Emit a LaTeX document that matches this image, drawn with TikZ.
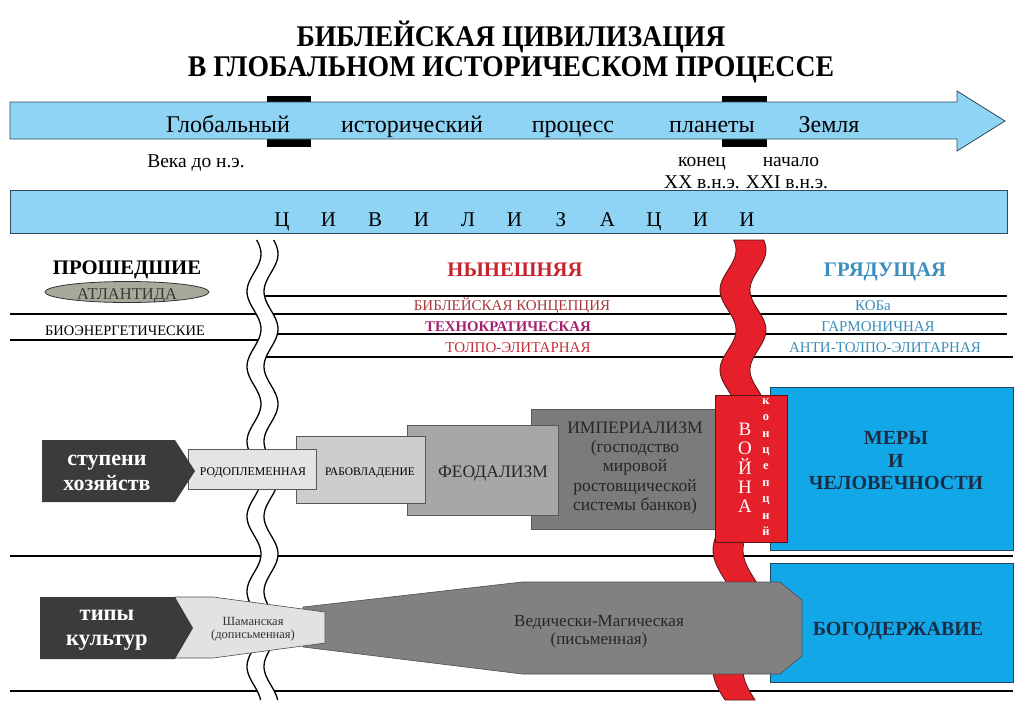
\documentclass[tikz,border=0pt]{standalone}
\usepackage{fontspec}
\setmainfont{Liberation Serif}
\usepackage{graphicx}
\definecolor{lblue}{HTML}{8FD4F5}
\definecolor{bardraw}{HTML}{2E4A58}
\definecolor{bblue}{HTML}{12A8E8}
\definecolor{bluedraw}{HTML}{1E4660}
\definecolor{warred}{HTML}{E5202A}
\definecolor{redline}{HTML}{5A1414}
\definecolor{navy}{HTML}{1B2D45}
\definecolor{nowred}{HTML}{C4262E}
\definecolor{bibred}{HTML}{A8383C}
\definecolor{techmag}{HTML}{A3206C}
\definecolor{tolred}{HTML}{C2303A}
\definecolor{futblue}{HTML}{3A8FBF}
\definecolor{rightteal}{HTML}{3C8DB6}
\definecolor{darklab}{HTML}{3B3B3B}
\definecolor{grRod}{HTML}{E4E4E4}
\definecolor{grRab}{HTML}{CDCDCD}
\definecolor{grFeo}{HTML}{A7A7A9}
\definecolor{grImp}{HTML}{7B7B7D}
\definecolor{grVed}{HTML}{818184}
\definecolor{grSha}{HTML}{E2E2E2}
\definecolor{atl}{HTML}{A9A99B}
\begin{document}
\begin{tikzpicture}[x=1pt,y=-1pt,
  every node/.style={inner sep=0pt,outer sep=0pt},
  hline/.style={line width=1.6pt,black},
  wave/.style={line width=1.3pt,black},
  boxline/.style={draw=black!65,line width=0.6pt},
  fs/.style={font=\fontsize{#1}{#1}\selectfont},
  fb/.style={font=\bfseries\fontsize{#1}{#1}\selectfont}
]
\useasboundingbox (0,0) rectangle (1027,710);
% title
\node[fb=30,anchor=base] (t1) at (511,46) {\scalebox{0.925}[1]{БИБЛЕЙСКАЯ ЦИВИЛИЗАЦИЯ}};
\node[fb=30,anchor=base] (t2) at (511,76) {\scalebox{0.925}[1]{В ГЛОБАЛЬНОМ ИСТОРИЧЕСКОМ ПРОЦЕССЕ}};
% top arrow
\fill[black] (267,96) rectangle (311,147);
\fill[black] (722,96) rectangle (767,147);
\filldraw[fill=lblue,draw=bardraw,line width=0.8pt] (10,102) -- (957,102) -- (957,91) -- (1005,121) -- (957,151) -- (957,139) -- (10,139) -- cycle;
\node[fs=24,anchor=base] (w1) at (228,132) {Глобальный};
\node[fs=24,anchor=base] (w2) at (412,132) {исторический};
\node[fs=24,anchor=base] (w3) at (573,132) {процесс};
\node[fs=24,anchor=base] (w4) at (712,132) {планеты};
\node[fs=24,anchor=base] (w5) at (829,132) {Земля};
\node[fs=19.5,anchor=base] (v1) at (196,167) {Века до н.э.};
\node[fs=19.5,anchor=base] (v2) at (702,166) {конец};
\node[fs=19.5,anchor=base] (v3) at (702,188) {XX в.н.э.};
\node[fs=19.5,anchor=base] (v4) at (791,166) {начало};
\node[fs=19.5,anchor=base] (v5) at (787,188) {XXI в.н.э.};
% civilisation bar
\filldraw[fill=lblue,draw=bardraw,line width=0.8pt] (10,190) rectangle (1007,233);
\foreach \l [count=\i from 0] in {Ц,И,В,И,Л,И,З,А,Ц,И,И}
  \node[fs=21,anchor=base] (c\i) at ({282+46.5*\i},226) {\l};
% row lines
\draw[hline] (10,314) -- (262,314);
\draw[hline] (10,340) -- (262,340);
\draw[hline] (262,296) -- (1007,296);
\draw[hline] (262,314) -- (1007,314);
\draw[hline] (262,334) -- (1007,334);
\draw[hline] (262,357) -- (1013,357);
\draw[hline] (10,556) -- (1013,556);
\draw[hline] (10,691) -- (1013,691);
% headings
\node[fb=20.7,anchor=base] (past) at (127,274) {ПРОШЕДШИЕ};
\node[fb=20.7,anchor=base,text=nowred] (now) at (515,276) {НЫНЕШНЯЯ};
\node[fb=20.7,anchor=base,text=futblue] (fut) at (885,276) {ГРЯДУЩАЯ};
\filldraw[fill=atl,draw=black!80,line width=0.8pt] (127,292) ellipse [x radius=82,y radius=10.5];
\node[fs=16.5,anchor=base,text=black!78] (atlant) at (127,299.5) {АТЛАНТИДА};
\node[fs=14.5,anchor=base] (bio) at (125,335) {БИОЭНЕРГЕТИЧЕСКИЕ};
\node[fs=15,anchor=base,text=bibred] (bib) at (512,310) {БИБЛЕЙСКАЯ КОНЦЕПЦИЯ};
\node[fb=14.8,anchor=base,text=techmag] (tech) at (508,331) {ТЕХНОКРАТИЧЕСКАЯ};
\node[fs=15,anchor=base,text=tolred] (tol) at (518,352) {ТОЛПО-ЭЛИТАРНАЯ};
\node[fs=15,anchor=base,text=rightteal] (kob) at (873,310) {КОБа};
\node[fs=15,anchor=base,text=rightteal] (garm) at (878,331) {ГАРМОНИЧНАЯ};
\node[fs=15,anchor=base,text=rightteal] (anti) at (885,352) {АНТИ-ТОЛПО-ЭЛИТАРНАЯ};
% white wavy break
\fill[white] plot[domain=240:700,samples=160] ({254+7*cos(4.8*(\x-254))},\x) -- plot[domain=700:240,samples=160] ({271+7*cos(4.8*(\x-254))},\x) -- cycle;
\draw[wave] plot[domain=240:700,samples=160] ({254+7*cos(4.8*(\x-254))},\x);
\draw[wave] plot[domain=240:700,samples=160] ({271+7*cos(4.8*(\x-254))},\x);
% red wavy band
\filldraw[fill=warred,draw=redline,line width=0.8pt] plot[domain=240:405,samples=90] ({743+8*cos(4.5*(\x-330))-15},\x) -- plot[domain=405:240,samples=90] ({743+8*cos(4.5*(\x-330))+15},\x) -- cycle;
\filldraw[fill=warred,draw=redline,line width=0.8pt] plot[domain=535:700,samples=90] ({740-12*cos(3*(\x-550))-15},\x) -- plot[domain=700:535,samples=90] ({740-12*cos(3*(\x-550))+15},\x) -- cycle;
% blue boxes
\filldraw[fill=bblue,draw=bluedraw,line width=0.8pt] (770,387) rectangle (1013,550);
\filldraw[fill=bblue,draw=bluedraw,line width=0.8pt] (770,563) rectangle (1013,682);
\node[fb=20,anchor=base,text=navy] (m1) at (896,444) {МЕРЫ};
\node[fb=20,anchor=base,text=navy] (m2) at (896,467) {И};
\node[fb=20,anchor=base,text=navy] (m3) at (896,489) {ЧЕЛОВЕЧНОСТИ};
\node[fb=20,anchor=base,text=navy] (bog) at (898,635) {БОГОДЕРЖАВИЕ};
% stages of economy
\filldraw[fill=grImp,boxline] (531,409) rectangle (732,529);
\filldraw[fill=warred,draw=redline,line width=0.8pt] (715,395) rectangle (787,542);
\filldraw[fill=grFeo,boxline] (407,425) rectangle (558,515);
\filldraw[fill=grRab,boxline] (296,436) rectangle (425,503);
\filldraw[fill=grRod,boxline] (188,449) rectangle (316,489);
\fill[darklab] (42,440) -- (175,440) -- (195,471) -- (175,502) -- (42,502) -- cycle;
\node[fb=22,anchor=base,text=white] (st1) at (107,465) {ступени};
\node[fb=22,anchor=base,text=white] (st2) at (107,490) {хозяйств};
\node[fs=11.8,anchor=base] (rod) at (253,475) {РОДОПЛЕМЕННАЯ};
\node[fs=11.5,anchor=base] (rab) at (370,475) {РАБОВЛАДЕНИЕ};
\node[fs=17.5,anchor=base,text=black!85] (feo) at (493,477) {ФЕОДАЛИЗМ};
\node[align=center,text=black!85,font=\fontsize{17.5}{19.3}\selectfont] (imp) at (635,468) {ИМПЕРИАЛИЗМ\\(господство\\мировой\\ростовщической\\системы банков)};
\node[align=center,text=white,font=\fontsize{19}{19.3}\selectfont] (war) at (745,468) {В\\О\\Й\\Н\\А};
\node[align=center,text=white,font=\bfseries\fontsize{12.5}{16.4}\selectfont] (conc) at (766,467) {к\\о\\н\\ц\\е\\п\\ц\\и\\й};
% types of culture
\filldraw[fill=grVed,draw=black!70,line width=0.6pt] (303,607) -- (522,582) -- (780,582) -- (802,600) -- (802,656) -- (780,674) -- (522,674) -- (303,647) -- cycle;
\filldraw[fill=grSha,draw=black!70,line width=0.6pt] (175,597) -- (213,597) -- (325,612) -- (325,643) -- (213,658) -- (175,658) -- cycle;
\fill[darklab] (40,597) -- (175,597) -- (193,628) -- (175,659) -- (40,659) -- cycle;
\node[fb=22.5,anchor=base,text=white] (tp1) at (107,620) {типы};
\node[fb=22.5,anchor=base,text=white] (tp2) at (107,645) {культур};
\node[fs=12.5,anchor=base,text=black!80] (sh1) at (253,625) {Шаманская};
\node[fs=12.5,anchor=base,text=black!80] (sh2) at (253,638) {(дописьменная)};
\node[fs=17,anchor=base,text=black!85] (ve1) at (599,626) {Ведически-Магическая};
\node[fs=17,anchor=base,text=black!85] (ve2) at (599,644) {(письменная)};
\end{tikzpicture}
\end{document}
